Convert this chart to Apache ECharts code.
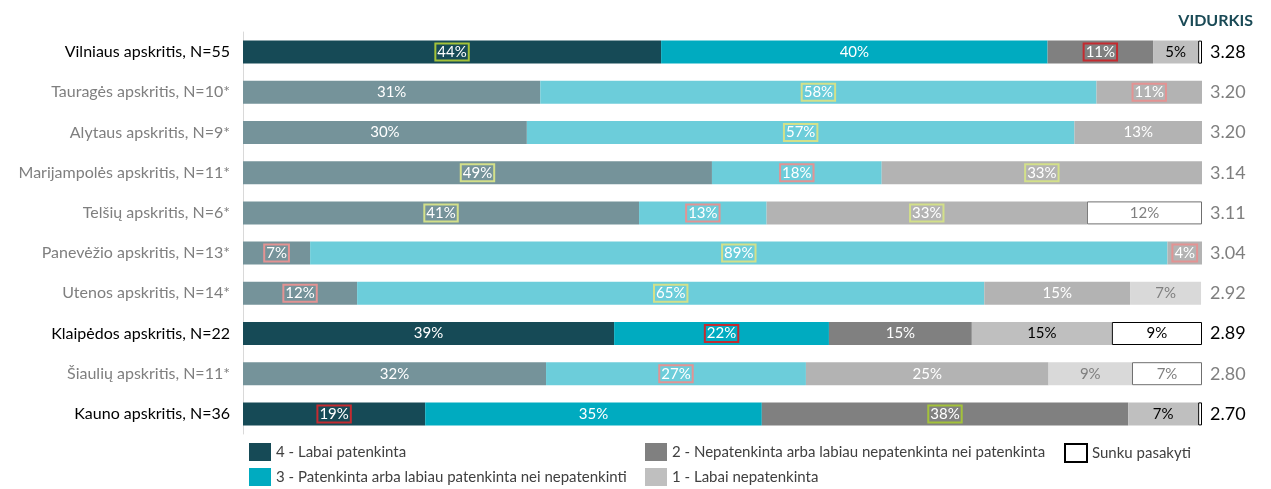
<!DOCTYPE html>
<html>
<head>
<meta charset="utf-8">
<script src="https://cdn.jsdelivr.net/npm/echarts@6/dist/echarts.min.js"></script>
<style>
html, body { margin: 0; padding: 0; background: #fff; }
#chart { width: 1271px; height: 489px; }
</style>
</head>
<body>
<div id="chart"></div>
<script>
// duomenys (procentai)
var categories = ['Vilniaus apskritis, N=55', 'Tauragės apskritis, N=10*', 'Alytaus apskritis, N=9*',
	'Marijampolės apskritis, N=11*', 'Telšių apskritis, N=6*', 'Panevėžio apskritis, N=13*',
	'Utenos apskritis, N=14*', 'Klaipėdos apskritis, N=22', 'Šiaulių apskritis, N=11*', 'Kauno apskritis, N=36'];
var averages = ['3.28', '3.20', '3.20', '3.14', '3.11', '3.04', '2.92', '2.89', '2.80', '2.70'];

var s4 = [43.6, 31.0, 29.6, 48.9, 41.3, 7.0, 11.9, 38.7, 31.6, 19.0];
var s3 = [40.3, 58.0, 57.1, 17.7, 13.3, 89.4, 65.4, 22.4, 27.1, 35.1];
var s2 = [11.0, 11.0, 13.3, 33.4, 33.4, 3.6, 15.2, 14.9, 25.3, 38.2];
var s1 = [4.7, 0, 0, 0, 0, 0, 7.4, 14.6, 8.7, 7.3];
var s0 = [0.4, 0, 0, 0, 12.0, 0, 0, 9.4, 7.3, 0.4];

// reikšmingumo žymės: '+' didesnis, '-' mažesnis
var sig4 = ['+', '', '', '+', '+', '-', '-', '', '', '-'];
var sig3 = ['', '+', '+', '-', '-', '+', '+', '-', '-', ''];
var sig2 = ['-', '-', '', '+', '+', '-', '', '', '', '+'];
var sig1 = ['', '', '', '', '', '', '', '', '', ''];
var sig0 = ['', '', '', '', '', '', '', '', '', ''];

var names = ['4 - Labai patenkinta', '3 - Patenkinta arba labiau patenkinta nei nepatenkinti',
	'2 - Nepatenkinta arba labiau nepatenkinta nei patenkinta', '1 - Labai nepatenkinta', 'Sunku pasakyti'];

var FONT = 'Lato';
var full = ['#164a56', '#00abc0', '#808080', '#bfbfbf', '#ffffff'];
var faded = ['#75939a', '#6ccdda', '#b3b3b3', '#d9d9d9', '#ffffff'];
var txtFull = ['#fff', '#fff', '#fff', '#000', '#000'];
var txtFaded = ['#fff', '#fff', '#fff', '#7f7f7f', '#7f7f7f'];

function isSmall(i) {
	return categories[i].indexOf('*') >= 0;
}

function makeData(vals, sig, k) {
	var out = [];
	for (var i = 0; i < vals.length; i++) {
		var sm = isSmall(i);
		var box = '';
		if (sig[i] == '+') box = sm ? '#d3e08a' : '#a3c23a';
		if (sig[i] == '-') box = sm ? '#e39393' : '#c42b30';
		var item = {
			value: vals[i],
			itemStyle: { color: sm ? faded[k] : full[k] },
			label: {
				show: vals[i] >= 1,
				color: sm ? txtFaded[k] : txtFull[k]
			}
		};
		if (k == 4) {
			item.itemStyle.borderColor = sm ? '#6f6f6f' : '#000';
			item.itemStyle.borderWidth = vals[i] > 0 ? 1 : 0;
		}
		if (box) {
			item.label.borderColor = box;
			item.label.borderWidth = 2;
			item.label.padding = [2, 2, 0, 2];
		}
		out.push(item);
	}
	return out;
}

var all = [[s4, sig4], [s3, sig3], [s2, sig2], [s1, sig1], [s0, sig0]];
var series = [];
for (var k = 0; k < all.length; k++) {
	series.push({
		name: names[k],
		type: 'bar',
		stack: 'total',
		barWidth: 23,
		color: full[k],
		itemStyle: k == 4 ? { color: '#fff', borderColor: '#000', borderWidth: 1 } : {},
		label: {
			show: true,
			position: 'inside',
			fontFamily: FONT,
			fontSize: 15,
			formatter: function (p) { return Math.round(p.value) + '%'; }
		},
		emphasis: { disabled: true },
		data: makeData(all[k][0], all[k][1], k)
	});
}

var leftLabels = categories.map(function (c, i) {
	return { value: c, textStyle: { color: isSmall(i) ? '#7f7f7f' : '#000' } };
});
var rightLabels = averages.map(function (a, i) {
	return { value: a, textStyle: { color: isSmall(i) ? '#7f7f7f' : '#000' } };
});

var legendCommon = {
	orient: 'vertical',
	padding: 0,
	itemWidth: 22,
	itemHeight: 18,
	itemGap: 7,
	icon: 'rect',
	selectedMode: false,
	textStyle: { fontFamily: FONT, fontSize: 15, color: '#404040' }
};

var chart = echarts.init(document.getElementById('chart'));
chart.setOption({
	animation: false,
	title: {
		text: 'VIDURKIS',
		right: 13,
		top: 8,
		textStyle: { fontFamily: FONT, fontSize: 16, fontWeight: 'bold', color: '#1a4a56' }
	},
	legend: [
		Object.assign({ left: 249, top: 443, data: [names[0], names[1]] }, legendCommon),
		Object.assign({ left: 645, top: 443, data: [names[2], names[3]] }, legendCommon),
		Object.assign({ left: 1064, top: 443, data: [names[4]] }, legendCommon)
	],
	grid: { left: 243, right: 69, top: 32, bottom: 55 },
	xAxis: { type: 'value', min: 0, max: 100, show: false },
	yAxis: [{
		type: 'category',
		inverse: true,
		data: leftLabels,
		axisLine: { show: true, lineStyle: { color: '#d9d9d9' } },
		axisTick: { show: false },
		axisLabel: { fontFamily: FONT, fontSize: 16, margin: 13 }
	}, {
		type: 'category',
		inverse: true,
		position: 'right',
		data: rightLabels,
		axisLine: { show: false },
		axisTick: { show: false },
		axisLabel: { fontFamily: FONT, fontSize: 18, margin: 8 }
	}],
	series: series
});
</script>
</body>
</html>
